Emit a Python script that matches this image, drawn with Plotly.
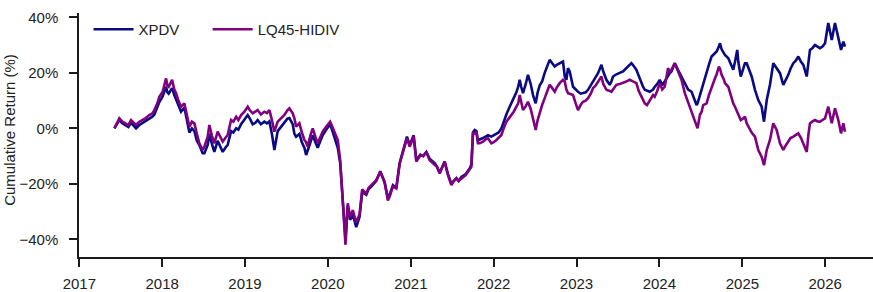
import pandas as pd
import plotly.graph_objects as go

# time as decimal years
t_years = [
    2017.423, 2017.459, 2017.483, 2017.519, 2017.564, 2017.592, 2017.624, 2017.652, 2017.685, 2017.725,
    2017.765, 2017.797, 2017.845, 2017.882, 2017.906, 2017.942, 2017.966, 2018.006, 2018.047, 2018.063,
    2018.079, 2018.099, 2018.120, 2018.147, 2018.168, 2018.196, 2018.228, 2018.268, 2018.298, 2018.329,
    2018.359, 2018.389, 2018.419, 2018.449, 2018.489, 2018.510, 2018.550, 2018.570, 2018.600, 2018.630,
    2018.670, 2018.703, 2018.731, 2018.763, 2018.791, 2018.832, 2018.860, 2018.893, 2018.920, 2018.953,
    2018.993, 2019.033, 2019.059, 2019.093, 2019.126, 2019.153, 2019.192, 2019.234, 2019.265, 2019.295,
    2019.325, 2019.355, 2019.395, 2019.434, 2019.476, 2019.512, 2019.536, 2019.576, 2019.597, 2019.617,
    2019.657, 2019.687, 2019.717, 2019.738, 2019.757, 2019.790, 2019.818, 2019.850, 2019.878, 2019.911,
    2019.938, 2019.980, 2020.001, 2020.028, 2020.056, 2020.080, 2020.120, 2020.149, 2020.180, 2020.213,
    2020.240, 2020.269, 2020.301, 2020.342, 2020.382, 2020.414, 2020.463, 2020.490, 2020.523, 2020.551,
    2020.583, 2020.632, 2020.659, 2020.684, 2020.723, 2020.744, 2020.784, 2020.825, 2020.865, 2020.895,
    2020.925, 2020.953, 2020.986, 2021.010, 2021.034, 2021.066, 2021.115, 2021.149, 2021.187, 2021.227,
    2021.287, 2021.318, 2021.348, 2021.378, 2021.408, 2021.448, 2021.489, 2021.517, 2021.550, 2021.577,
    2021.610, 2021.638, 2021.662, 2021.686, 2021.710, 2021.731, 2021.750, 2021.771, 2021.791, 2021.810,
    2021.831, 2021.871, 2021.903, 2021.931, 2021.972, 2022.000, 2022.033, 2022.060, 2022.093, 2022.121,
    2022.153, 2022.181, 2022.214, 2022.242, 2022.274, 2022.296, 2022.314, 2022.332, 2022.354, 2022.387,
    2022.414, 2022.447, 2022.475, 2022.507, 2022.531, 2022.556, 2022.586, 2022.616, 2022.646, 2022.676,
    2022.707, 2022.737, 2022.767, 2022.797, 2022.837, 2022.858, 2022.878, 2022.897, 2022.918, 2022.958,
    2022.990, 2023.018, 2023.051, 2023.079, 2023.111, 2023.139, 2023.172, 2023.199, 2023.232, 2023.260,
    2023.301, 2023.323, 2023.361, 2023.401, 2023.422, 2023.441, 2023.482, 2023.522, 2023.562, 2023.594,
    2023.622, 2023.643, 2023.663, 2023.691, 2023.723, 2023.751, 2023.784, 2023.803, 2023.824, 2023.851,
    2023.884, 2023.924, 2023.944, 2023.975, 2024.005, 2024.035, 2024.065, 2024.105, 2024.126, 2024.146,
    2024.186, 2024.226, 2024.267, 2024.307, 2024.327, 2024.347, 2024.388, 2024.428, 2024.448, 2024.460,
    2024.488, 2024.509, 2024.528, 2024.569, 2024.597, 2024.629, 2024.669, 2024.690, 2024.717, 2024.730,
    2024.750, 2024.778, 2024.790, 2024.830, 2024.871, 2024.890, 2024.911, 2024.938, 2024.951, 2024.980,
    2025.011, 2025.031, 2025.052, 2025.092, 2025.112, 2025.152, 2025.192, 2025.233, 2025.261, 2025.294,
    2025.333, 2025.373, 2025.414, 2025.454, 2025.494, 2025.527, 2025.554, 2025.581, 2025.615, 2025.647,
    2025.675, 2025.708, 2025.736, 2025.777, 2025.798, 2025.816, 2025.847, 2025.877, 2025.907, 2025.937,
    2025.967, 2025.998, 2026.037, 2026.079, 2026.118, 2026.158, 2026.191, 2026.219, 2026.239,
]

# LQ45-HIDIV cumulative return (%)
lq45_hidiv = [
    0.0, 2.5, 3.6, 2.4, 1.8, 1.2, 3.0, 2.0, 1.2, 2.4,
    3.0, 3.6, 4.8, 5.4, 6.6, 9.0, 11.4, 13.2, 18.0, 15.5,
    15.0, 16.5, 17.5, 14.0, 12.7, 10.0, 7.8, 9.0, 5.0, 0.6,
    2.4, 1.8, -2.0, -5.4, -7.8, -6.6, -3.0, 1.2, -2.5, -5.4,
    -1.2, -3.0, -4.8, -3.5, -2.4, 3.0, 2.4, 4.2, 3.0, 4.8,
    6.0, 7.8, 6.5, 5.4, 6.0, 6.6, 5.0, 6.0, 5.5, 6.6,
    3.0, -1.2, 2.4, 3.6, 4.8, 6.5, 7.2, 5.4, 3.6, 0.6,
    1.8, -1.5, -4.2, -5.0, -6.6, -2.5, 0.0, -3.0, -5.4, -3.0,
    -1.2, 0.6, 1.5, 2.4, 0.5, -1.2, -4.2, -11.5, -26.0, -42.0,
    -27.0, -32.0, -29.5, -34.0, -31.0, -22.0, -23.5, -21.5, -20.5, -19.5,
    -18.7, -15.7, -17.5, -19.3, -26.0, -24.7, -21.0, -21.7, -12.7, -9.5,
    -7.2, -3.6, -6.6, -4.5, -3.0, -12.0, -9.7, -10.0, -8.5, -11.5,
    -13.3, -14.0, -16.3, -14.0, -12.0, -16.9, -20.5, -19.0, -18.0, -19.0,
    -18.0, -17.5, -16.9, -16.0, -15.0, -13.9, -1.8, -1.8, -1.2, -5.4,
    -5.4, -4.8, -4.0, -3.6, -5.4, -5.0, -4.2, -3.5, -2.4, 0.0,
    2.4, 3.5, 4.8, 6.0, 7.8, 9.0, 12.0, 10.0, 6.6, 8.0,
    9.6, 7.0, 3.0, -0.6, 3.0, 6.0, 8.5, 10.9, 13.0, 15.7,
    14.5, 13.2, 15.0, 16.3, 17.5, 16.9, 14.0, 12.7, 12.5, 12.0,
    9.0, 6.6, 8.5, 9.6, 10.0, 10.9, 12.5, 14.5, 15.5, 16.9,
    18.7, 16.0, 13.9, 13.5, 13.2, 14.0, 15.7, 16.0, 16.3, 16.8,
    17.2, 17.5, 17.2, 16.8, 16.3, 13.5, 11.5, 10.2, 9.0, 8.4,
    10.0, 12.0, 11.4, 13.5, 16.3, 14.0, 15.0, 21.7, 20.5, 21.1,
    23.5, 20.5, 17.5, 12.7, 11.0, 9.6, 6.6, 2.4, 1.0, 0.0,
    4.8, 6.0, 8.4, 9.0, 12.0, 15.0, 18.0, 19.5, 22.3, 21.5,
    19.3, 17.5, 16.3, 15.0, 10.2, 9.0, 7.8, 6.0, 4.8, 3.0,
    3.6, 4.2, 1.8, -0.6, -1.5, -3.0, -7.8, -10.3, -13.3, -7.8,
    -4.2, 1.8, -0.6, -5.4, -7.8, -6.0, -4.8, -3.5, -3.0, -2.5,
    -1.8, -3.5, -5.4, -8.5, -2.0, 1.8, 2.5, 3.0, 2.5, 2.4,
    3.0, 3.6, 7.8, 1.8, 7.2, 3.0, -1.8, 1.8, -1.2,
]

# XPDV cumulative return (%)
xpdv = [
    0.0, 2.0, 3.0, 1.8, 1.0, 0.5, 2.0, 1.0, 0.0, 1.2,
    2.0, 2.4, 3.6, 4.2, 5.0, 7.5, 9.5, 11.5, 15.0, 13.0,
    12.5, 13.5, 14.5, 12.0, 10.5, 8.0, 6.0, 7.5, 3.0, -1.5,
    0.0, -1.0, -4.5, -6.0, -9.0, -9.0, -6.0, -2.0, -5.5, -8.5,
    -4.5, -7.0, -8.5, -7.0, -6.0, -1.0, -1.5, 0.0, -0.5, 1.5,
    3.0, 4.8, 3.5, 1.5, 2.0, 3.0, 1.5, 2.4, 1.8, 2.5,
    -2.0, -7.8, -1.0, 0.5, 2.0, 3.5, 3.7, 1.5, -2.0, -3.0,
    -2.0, -5.0, -7.0, -9.6, -8.0, -5.0, -2.5, -5.0, -7.0, -4.5,
    -2.5, -0.5, 0.5, 1.5, -1.0, -3.5, -7.0, -12.5, -26.0, -40.0,
    -28.0, -33.0, -31.0, -35.6, -32.0, -23.0, -24.0, -22.0, -21.0, -20.0,
    -19.0, -15.5, -17.5, -19.5, -25.0, -24.0, -20.5, -21.5, -12.5, -9.0,
    -6.5, -3.0, -6.0, -4.0, -2.5, -11.5, -9.5, -10.0, -8.5, -11.0,
    -12.5, -14.0, -16.0, -14.0, -12.0, -16.5, -20.0, -19.0, -18.0, -19.0,
    -17.5, -17.0, -16.5, -15.5, -14.5, -13.0, -1.5, -0.6, -1.0, -4.5,
    -4.0, -3.5, -3.0, -2.5, -3.0, -2.5, -2.0, -1.5, 0.0, 2.5,
    5.0, 7.0, 9.0, 11.0, 13.0, 15.0, 17.5, 15.0, 12.7, 16.0,
    19.3, 16.0, 12.0, 9.0, 13.0, 15.5, 17.0, 20.0, 22.5, 24.7,
    23.5, 22.3, 23.0, 23.5, 24.1, 18.7, 17.5, 21.7, 20.5, 15.0,
    14.0, 13.2, 12.5, 12.7, 13.0, 13.9, 15.5, 16.9, 18.5, 19.9,
    22.9, 20.5, 17.5, 15.7, 17.0, 18.7, 19.5, 20.0, 20.5, 21.5,
    22.3, 22.8, 23.5, 22.5, 21.1, 19.0, 16.3, 15.0, 13.9, 13.5,
    13.2, 14.0, 15.0, 16.0, 17.5, 15.5, 17.0, 19.0, 19.9, 20.5,
    23.5, 21.0, 18.7, 16.0, 15.0, 14.0, 13.2, 10.0, 8.4, 9.0,
    12.0, 13.9, 16.0, 19.9, 23.0, 25.9, 27.0, 27.7, 29.5, 30.7,
    28.5, 27.1, 26.5, 25.3, 22.5, 21.1, 24.0, 28.3, 24.0, 18.7,
    21.5, 23.5, 23.5, 20.0, 18.7, 13.9, 10.2, 7.8, 2.4, 10.2,
    15.7, 23.5, 21.7, 19.9, 15.7, 17.5, 19.3, 21.5, 23.5, 24.5,
    25.9, 24.0, 22.9, 18.7, 24.0, 28.3, 29.0, 30.1, 29.5, 28.9,
    29.5, 30.7, 38.0, 31.9, 38.0, 33.1, 28.3, 31.3, 29.5,
]

y_ticks = [-40, -20, 0, 20, 40]
x_tick_years = list(range(2017, 2027))


def to_date(y):
    year = int(y)
    start = pd.Timestamp(year=year, month=1, day=1)
    end = pd.Timestamp(year=year + 1, month=1, day=1)
    return start + (end - start) * (y - year)


dates = [to_date(v) for v in t_years]

fig = go.Figure()
fig.add_trace(go.Scatter(x=dates, y=xpdv, mode="lines", name="XPDV",
                         line=dict(color="#0a0a82", width=2.6), legend="legend"))
fig.add_trace(go.Scatter(x=dates, y=lq45_hidiv, mode="lines", name="LQ45-HIDIV",
                         line=dict(color="#800080", width=2.6), legend="legend2"))

font_family = "Liberation Sans, Arial, sans-serif"
axis_col = "#1a1a1a"
legend_common = dict(orientation="h", y=1.0, xanchor="left", yanchor="top",
                     bgcolor="rgba(0,0,0,0)", font=dict(size=15, color="#222222"),
                     itemwidth=40)
fig.update_layout(
    width=873, height=292,
    margin=dict(l=79, r=0, t=13, b=35),
    plot_bgcolor="white", paper_bgcolor="white",
    font=dict(family=font_family, size=15, color="#222222"),
    showlegend=True,
    legend=dict(x=0.012, **legend_common),
    legend2=dict(x=0.162, **legend_common),
    xaxis=dict(
        type="date",
        range=[to_date(2016.996), to_date(2026.577)],
        tickvals=[pd.Timestamp(year=y, month=1, day=1) for y in x_tick_years],
        ticktext=[str(y) for y in x_tick_years],
        showgrid=False, zeroline=False,
        showline=True, linecolor=axis_col, linewidth=1.5,
        ticks="outside", ticklen=8, tickwidth=1.5, tickcolor=axis_col,
        ticklabelstandoff=4,
    ),
    yaxis=dict(
        range=[-46.4, 41.6],
        tickvals=y_ticks,
        ticktext=[("\u2212" if v < 0 else "") + f"{abs(v)}%" for v in y_ticks],
        showgrid=False, zeroline=False,
        showline=True, linecolor=axis_col, linewidth=1.5,
        ticks="outside", ticklen=8, tickwidth=1.5, tickcolor=axis_col,
        ticklabelstandoff=8,
    ),
    annotations=[dict(
        text="Cumulative Return (%)", textangle=-90,
        xref="paper", yref="paper", x=-0.0885, y=0.52,
        xanchor="center", yanchor="middle", showarrow=False,
        font=dict(size=15, color="#222222"),
    )],
)

fig.write_html("out.html", config={"displayModeBar": False},
               post_script="document.body.style.margin='0';")
